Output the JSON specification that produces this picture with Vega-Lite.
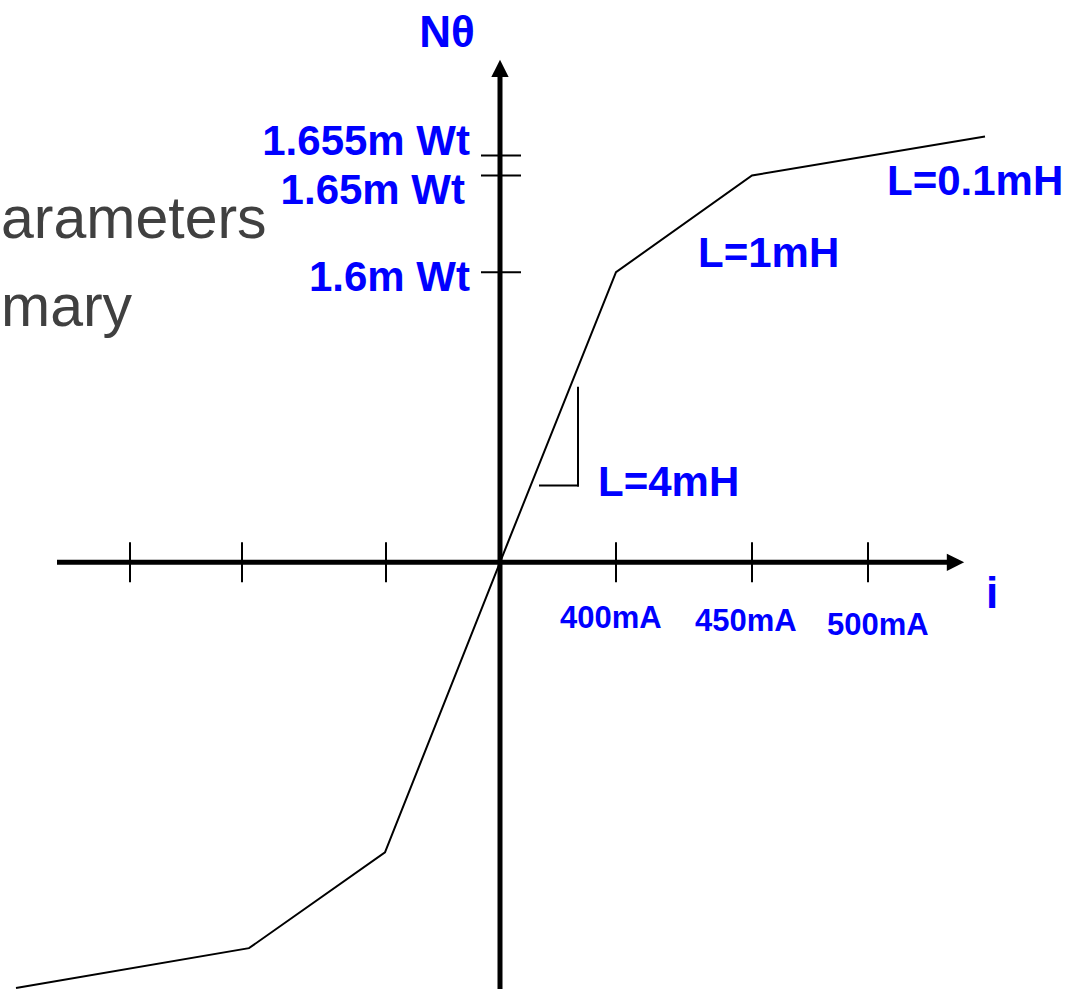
{
  "$schema": "https://vega.github.io/schema/vega-lite/v6.json",
  "width": 1078,
  "height": 992,
  "autosize": {"type": "fit", "contains": "padding"},
  "padding": 0,
  "background": "white",
  "config": {"view": {"stroke": null}},
  "datasets": {
    "curve": [
      {"i": 1, "x": -484, "y": -427},
      {"i": 2, "x": -251, "y": -387},
      {"i": 3, "x": -115, "y": -291},
      {"i": 4, "x": 0, "y": 0},
      {"i": 5, "x": 116, "y": 291},
      {"i": 6, "x": 252, "y": 388},
      {"i": 7, "x": 485, "y": 427}
    ],
    "axes": [
      {"x": -443, "y": 0, "x2": 449, "y2": 0},
      {"x": 0, "y": 487, "x2": 0, "y2": -428}
    ],
    "ticks": [
      {"x": -370, "y": 20, "x2": -370, "y2": -20},
      {"x": -258, "y": 20, "x2": -258, "y2": -20},
      {"x": -114, "y": 20, "x2": -114, "y2": -20},
      {"x": 116, "y": 20, "x2": 116, "y2": -20},
      {"x": 252, "y": 20, "x2": 252, "y2": -20},
      {"x": 368, "y": 20, "x2": 368, "y2": -20},
      {"x": -19, "y": 408, "x2": 21, "y2": 408},
      {"x": -19, "y": 388, "x2": 21, "y2": 388},
      {"x": -19, "y": 291, "x2": 21, "y2": 291}
    ],
    "slope": [
      {"x": 78, "y": 175, "x2": 78, "y2": 77},
      {"x": 40, "y": 77, "x2": 78, "y2": 77}
    ],
    "arrowX": [{"x": 455.5, "y": 0}],
    "arrowY": [{"x": 0, "y": 495.5}],
    "yLabels": [
      {"x": -30, "y": 409, "label": "1.655m Wt"},
      {"x": -35, "y": 359, "label": "1.65m Wt"},
      {"x": -30, "y": 272, "label": "1.6m Wt"}
    ],
    "lLabels": [
      {"x": 98, "y": 66, "label": "L=4mH"},
      {"x": 198, "y": 296, "label": "L=1mH"},
      {"x": 387, "y": 368, "label": "L=0.1mH"}
    ],
    "xLabels": [
      {"x": 60, "y": -66, "label": "400mA"},
      {"x": 195, "y": -69, "label": "450mA"},
      {"x": 327, "y": -73, "label": "500mA"}
    ],
    "axisNames": [
      {"x": -53, "y": 517, "label": "Nθ"},
      {"x": 492, "y": -46, "label": "i"}
    ],
    "bgText": [
      {"x": -499, "y": 325, "label": "arameters"},
      {"x": -499, "y": 237, "label": "mary"}
    ]
  },
  "encoding": {
    "x": {"field": "x", "type": "quantitative", "scale": {"domain": [-500, 578], "nice": false, "zero": false}, "axis": null},
    "y": {"field": "y", "type": "quantitative", "scale": {"domain": [-428, 564], "nice": false, "zero": false}, "axis": null}
  },
  "layer": [
    {
      "data": {"name": "bgText"},
      "mark": {"type": "text", "align": "left", "baseline": "alphabetic", "font": "Liberation Sans", "fontSize": 59, "color": "#404040"},
      "encoding": {"text": {"field": "label"}}
    },
    {
      "data": {"name": "curve"},
      "mark": {"type": "line", "color": "black", "strokeWidth": 2},
      "encoding": {"order": {"field": "i", "type": "quantitative"}}
    },
    {
      "data": {"name": "axes"},
      "mark": {"type": "rule", "color": "black", "strokeWidth": 5, "strokeCap": "butt"},
      "encoding": {"x2": {"field": "x2"}, "y2": {"field": "y2"}}
    },
    {
      "data": {"name": "ticks"},
      "mark": {"type": "rule", "color": "black", "strokeWidth": 2},
      "encoding": {"x2": {"field": "x2"}, "y2": {"field": "y2"}}
    },
    {
      "data": {"name": "slope"},
      "mark": {"type": "rule", "color": "black", "strokeWidth": 2, "strokeCap": "square"},
      "encoding": {"x2": {"field": "x2"}, "y2": {"field": "y2"}}
    },
    {
      "data": {"name": "arrowX"},
      "mark": {"type": "point", "shape": "M-1,-1L1,0L-1,1Z", "filled": true, "color": "black", "opacity": 1, "size": 300, "strokeWidth": 0}
    },
    {
      "data": {"name": "arrowY"},
      "mark": {"type": "point", "shape": "M-1,1L0,-1L1,1Z", "filled": true, "color": "black", "opacity": 1, "size": 300, "strokeWidth": 0}
    },
    {
      "data": {"name": "yLabels"},
      "mark": {"type": "text", "align": "right", "baseline": "alphabetic", "font": "Liberation Sans", "fontWeight": "bold", "fontSize": 42, "color": "#0000FF"},
      "encoding": {"text": {"field": "label"}}
    },
    {
      "data": {"name": "lLabels"},
      "mark": {"type": "text", "align": "left", "baseline": "alphabetic", "font": "Liberation Sans", "fontWeight": "bold", "fontSize": 42, "color": "#0000FF"},
      "encoding": {"text": {"field": "label"}}
    },
    {
      "data": {"name": "xLabels"},
      "mark": {"type": "text", "align": "left", "baseline": "alphabetic", "font": "Liberation Sans", "fontWeight": "bold", "fontSize": 31, "color": "#0000FF"},
      "encoding": {"text": {"field": "label"}}
    },
    {
      "data": {"name": "axisNames"},
      "mark": {"type": "text", "align": "center", "baseline": "alphabetic", "font": "Liberation Sans", "fontWeight": "bold", "fontSize": 44, "color": "#0000FF"},
      "encoding": {"text": {"field": "label"}}
    }
  ]
}
